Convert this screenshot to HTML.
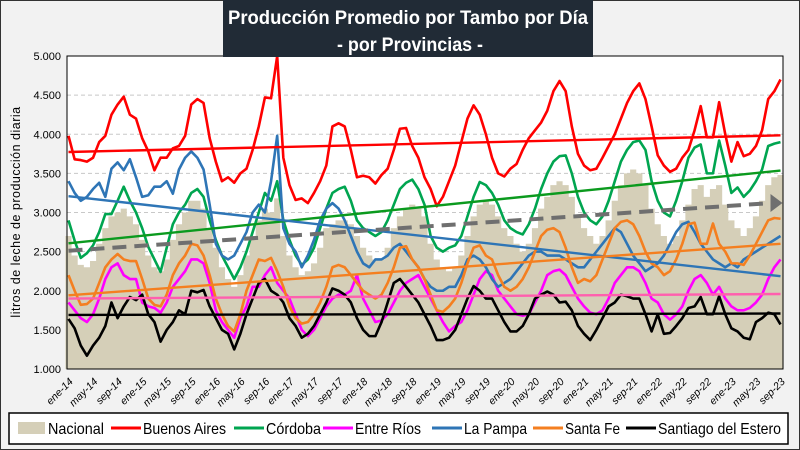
<!DOCTYPE html>
<html><head><meta charset="utf-8"><style>
html,body{margin:0;padding:0;width:800px;height:450px;overflow:hidden;background:#f2f2f2;font-family:"Liberation Sans",sans-serif;}
#frame{position:absolute;left:0;top:0;width:798px;height:448px;border:1px solid #333;}
svg{position:absolute;left:0;top:0;}
</style></head><body>
<div id="frame"></div>
<svg id="chart" width="800" height="450"></svg>
<script>
const nacional=[2700,2450,2330,2300,2380,2600,2800,2950,3000,3050,2950,2850,2650,2450,2300,2250,2400,2650,2850,3000,3150,3150,3050,2800,2550,2300,2150,2050,2200,2450,2700,2900,3050,3000,3180,2700,2450,2300,2200,2250,2350,2550,2800,2850,2900,2900,2850,2700,2550,2450,2400,2400,2550,2800,2950,3050,3100,3050,2950,2600,2400,2300,2250,2300,2450,2700,2950,3100,3150,3100,2950,2800,2700,2600,2500,2600,2800,3050,3200,3350,3400,3350,3200,2950,2800,2700,2600,2700,2900,3150,3350,3500,3550,3500,3350,3050,2850,2700,2600,2700,2900,3100,3300,3350,3200,3300,3350,3100,2900,2800,2700,2800,2950,3150,3350,3450,3480];
const buenosAires=[3980,3680,3670,3650,3700,3900,3980,4250,4380,4480,4250,4200,3950,3780,3540,3700,3700,3820,3850,3980,4380,4450,4400,3950,3650,3400,3450,3380,3500,3560,3800,4100,4470,4460,5000,3700,3350,3160,3180,3120,3250,3400,3600,4100,4140,4100,3800,3450,3470,3450,3370,3480,3560,3800,4070,4080,3850,3700,3450,3300,3080,3200,3400,3600,3900,4200,4370,4250,4000,3700,3500,3460,3560,3620,3800,3950,4050,4150,4300,4550,4680,4550,4100,3750,3600,3540,3560,3700,3850,4000,4200,4400,4550,4650,4450,4100,3730,3600,3520,3560,3700,3800,4050,4360,3960,3960,4410,4000,3650,3900,3720,3750,3850,4050,4450,4550,4700];
const cordoba=[2900,2640,2420,2480,2580,2750,2980,2980,3150,3330,3150,3000,2800,2560,2400,2240,2550,2850,3000,3100,3250,3300,3200,2900,2650,2450,2300,2150,2300,2500,2750,3000,3250,3150,3400,2900,2650,2450,2330,2400,2550,2800,3050,3250,3300,3330,3150,2900,2800,2750,2700,2750,2900,3100,3300,3380,3420,3300,3100,2700,2550,2500,2550,2580,2700,2950,3200,3390,3350,3250,3100,2900,2800,2750,2720,2850,3050,3300,3500,3650,3720,3730,3500,3200,3000,2900,2850,2950,3150,3400,3650,3800,3900,3920,3800,3400,3150,3000,2950,3150,3400,3700,3830,3870,3500,3500,3920,3600,3250,3320,3200,3280,3400,3550,3850,3880,3900];
const entreRios=[1850,1750,1650,1600,1700,1900,2150,2300,2350,2200,2150,2150,1850,1800,1780,1720,1850,2050,2150,2250,2400,2400,2350,2100,1750,1600,1500,1400,1650,1800,2050,2050,2200,2300,2100,2000,1900,1700,1500,1420,1500,1650,1800,1900,1950,1950,2000,2200,1900,1750,1600,1620,1700,1850,2000,2100,2150,2200,2050,1900,1750,1600,1480,1550,1600,1750,1950,2150,2250,2200,2000,1900,1800,1700,1680,1700,1850,2000,2200,2250,2270,2200,2050,1900,1800,1720,1700,1750,1900,2100,2200,2300,2300,2250,2100,1900,1850,1700,1630,1700,1800,2000,2150,2200,2100,1950,2050,1900,1800,1750,1750,1780,1850,1950,2150,2300,2400];
const laPampa=[3400,3250,3150,3200,3300,3380,3200,3560,3640,3540,3680,3450,3200,3220,3330,3330,3400,3240,3550,3700,3780,3700,3550,3100,2600,2450,2400,2450,2600,2750,3000,3100,3000,3400,3980,2800,2600,2500,2300,2450,2650,2900,3050,3120,3050,2900,2700,2500,2350,2300,2400,2400,2450,2550,2600,2500,2400,2300,2150,2050,2000,2000,2050,2050,2200,2400,2450,2400,2300,2150,2050,2100,2150,2250,2350,2450,2500,2500,2450,2450,2450,2400,2350,2300,2300,2400,2500,2600,2700,2800,2750,2600,2450,2350,2250,2300,2350,2450,2600,2750,2850,2880,2750,2600,2500,2400,2350,2300,2350,2300,2400,2450,2500,2550,2600,2650,2700];
const santaFe=[2200,2000,1820,1830,1900,2100,2300,2400,2470,2400,2380,2380,2150,1900,1820,1800,1950,2200,2350,2450,2600,2580,2450,2200,1900,1700,1550,1480,1700,2000,2200,2400,2380,2420,2250,2050,1800,1650,1580,1600,1700,1850,2050,2300,2330,2300,2200,2100,2000,1950,1900,1950,2100,2300,2550,2570,2400,2300,2150,1950,1750,1730,1800,1900,2100,2350,2550,2580,2450,2400,2200,2050,2000,2050,2150,2300,2500,2700,2780,2800,2750,2550,2300,2100,2150,2120,2200,2400,2600,2800,2880,2900,2850,2700,2500,2350,2300,2200,2250,2400,2600,2850,2870,2600,2600,2860,2600,2500,2350,2350,2330,2450,2600,2750,2900,2930,2920];
const santiago=[1640,1520,1300,1170,1300,1400,1550,1850,1650,1800,1920,1880,1950,1700,1600,1350,1500,1600,1750,1700,2000,1980,2010,1800,1650,1500,1450,1250,1450,1700,1900,2100,2150,2000,1950,1850,1650,1550,1400,1450,1550,1700,1850,2030,2000,1950,1850,1650,1500,1420,1420,1600,1850,2100,2150,2050,1950,1850,1700,1550,1370,1370,1400,1500,1700,1900,2060,2000,1900,1900,1750,1600,1480,1480,1550,1700,1900,1950,1990,1950,1850,1860,1750,1550,1450,1370,1500,1650,1800,1850,1950,1930,1900,1900,1700,1480,1700,1450,1460,1550,1650,1780,1800,1920,1700,1700,1930,1700,1520,1480,1400,1380,1600,1650,1720,1700,1570];
const monthNames=["ene","feb","mar","abr","may","jun","jul","ago","sep","oct","nov","dic"];
const yTicks=[1000,1500,2000,2500,3000,3500,4000,4500,5000];
const seriesNames=["Nacional","Buenos Aires","Córdoba","Entre Ríos","La Pampa","Santa Fe","Santiago del Estero"];

const NS="http://www.w3.org/2000/svg";
const svg=document.getElementById('chart');
const PL=67,PR=783,PT=56,PB=369;
const N=nacional.length;
const x0=68.5,x1=780.5;
function xs(i){return x0+(x1-x0)*i/(N-1);}
function ys(v){return PB-(v-1000)/4000*(PB-PT);}
function el(t,a,p){const e=document.createElementNS(NS,t);for(const k in a)e.setAttribute(k,a[k]);(p||svg).appendChild(e);return e;}

const plot=el('rect',{x:PL,y:PT,width:PR-PL,height:PB-PT,fill:'#fff',stroke:'none'});



yTicks.forEach(v=>{
  if(v>1000&&v<5000){const g=el('line',{x1:PL,x2:PR,y1:ys(v),y2:ys(v),stroke:'#c8c8c8','stroke-dasharray':'4 3','stroke-width':1});
  
  }
  const t=el('text',{x:PL-6,y:ys(v)+4,'text-anchor':'end','font-size':'11','fill':'#000'});
  t.textContent=(v/1000).toFixed(3);
  
  
});

const sp=(x1-x0)/(N-1);
let d='M'+(xs(0)-sp/2)+' '+ys(1000);
nacional.forEach((v,i)=>{d+=' L'+(xs(i)-sp/2)+' '+ys(v)+' L'+(xs(i)+sp/2)+' '+ys(v);});
d+=' L'+(xs(N-1)+sp/2)+' '+ys(1000)+' Z';
const area=el('path',{d:d,fill:'#d5cfb8'});



function reg(a){const n=a.length;let sx=0,sy=0,sxy=0,sxx=0;a.forEach((v,i)=>{sx+=i;sy+=v;sxy+=i*v;sxx+=i*i;});const b=(n*sxy-sx*sy)/(n*sxx-sx*sx);return [ (sy-b*sx)/n, b];}
function trend(a,color,w,dash,name){const [c,b]=reg(a);const l=el('line',{x1:xs(0),y1:ys(c),x2:xs(N-1)-(dash?8:0),y2:ys(c+b*(N-1)),stroke:color,'stroke-width':w});if(dash)l.setAttribute('stroke-dasharray',dash);


return [c,b];}
function line(a,color,name){const l=el('polyline',{points:a.map((v,i)=>xs(i)+','+ys(v)).join(' '),fill:'none',stroke:color,'stroke-width':2.6,'stroke-linejoin':'round'});

}

const S=[[buenosAires,'#ff0000','#ff0000','buenos-aires'],[cordoba,'#00a550','#0b9a1e','cordoba'],[entreRios,'#ff00ff','#ff5fae','entre-rios'],[laPampa,'#2e75b6','#2e75b6','la-pampa'],[santaFe,'#f47f20','#f47f20','santa-fe'],[santiago,'#000000','#000000','santiago-del-estero']];
S.forEach(s=>line(s[0],s[1],s[3]+'-line'));
S.forEach(s=>trend(s[0],s[2],2.4,null,s[3]+'-trend'));
const [nc,nb]=trend(nacional,'#6f6f6f',4,'14 8','nacional-trend');
const ax=xs(N-1),ay=ys(nc+nb*(N-1));
const ar=el('polygon',{points:(ax-10)+','+(ay-9)+' '+(ax+2)+','+(ay)+' '+(ax-10)+','+(ay+9),fill:'#6f6f6f'});



const border=el('rect',{x:PL,y:PT,width:PR-PL,height:PB-PT,fill:'none',stroke:'#000','stroke-width':1});



for(let i=0;i<N;i+=4){const yr=14+Math.floor(i/12);const lab=monthNames[i%12]+'-'+yr;
  const tx=xs(i),ty=PB+8;
  const t=el('text',{x:tx,y:ty,'text-anchor':'end','font-size':'10.5','font-style':'italic',transform:'rotate(-45 '+tx+' '+ty+')'});
  t.setAttribute('dy','0.7em');
  t.textContent=lab;
  
  
}
const yt=el('text',{x:20,y:212,'text-anchor':'middle','font-size':'12.5',transform:'rotate(-90 20 212)','letter-spacing':'0.5'});
yt.textContent='litros de leche de producción diaria';



// title
const tb=el('rect',{x:223,y:0,width:370,height:57,fill:'#212b36'});


const t1=el('text',{x:408,y:24,'text-anchor':'middle','font-size':'19','font-weight':'bold',fill:'#fff',textLength:'360',lengthAdjust:'spacingAndGlyphs'});
t1.textContent='Producción Promedio por Tambo por Día';


const t2=el('text',{x:410,y:51,'text-anchor':'middle','font-size':'19','font-weight':'bold',fill:'#fff',textLength:'146',lengthAdjust:'spacingAndGlyphs'});
t2.textContent='- por Provincias -';



// legend
const lb=el('rect',{x:9,y:413,width:779,height:31,fill:'#fff',stroke:'#000','stroke-width':1.5});


const lx=[18,111,234,323,432,533,626];
const tl=[56,83,55,66,63,55,123];
const lcol=[null,'#ff0000','#00a550','#ff00ff','#2e75b6','#f47f20','#000000'];
seriesNames.forEach((n,k)=>{
  const g=el('g',{});
  
  
  if(k===0)el('rect',{x:lx[k],y:422,width:27,height:12,fill:'#d5cfb8'},g);
  else el('line',{x1:lx[k],x2:lx[k]+30,y1:428,y2:428,stroke:lcol[k],'stroke-width':3},g);
  const t=el('text',{x:lx[k]+(k===0?30:32),y:434,'font-size':'16',textLength:tl[k],lengthAdjust:'spacingAndGlyphs'},g);
  t.textContent=n;
});
</script>
</body></html>
